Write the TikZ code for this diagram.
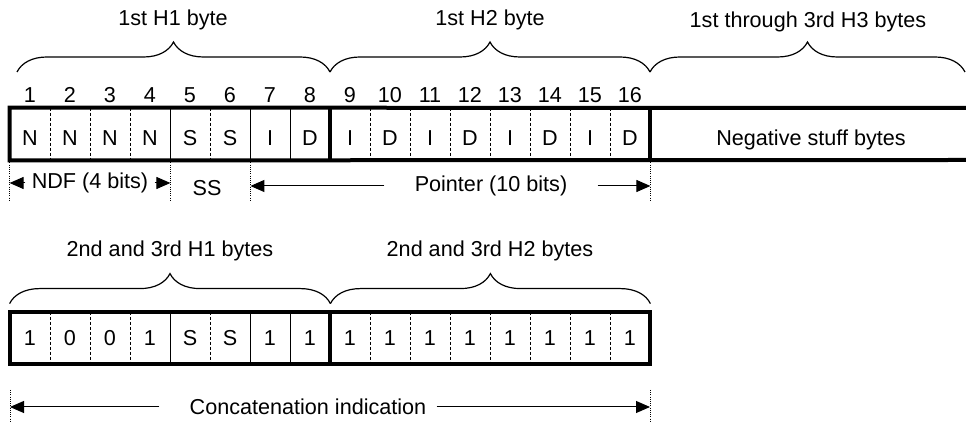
\documentclass[tikz,border=0pt]{standalone}
\usepackage{fontspec}
\setmainfont{Liberation Sans}
\usetikzlibrary{arrows.meta,decorations.pathreplacing}
\begin{document}
\begin{tikzpicture}[
    x=0.5pt, y=-0.5pt,
    >={Triangle[length=7pt,width=6pt]},
    every node/.style={font=\fontsize{10.8}{12}\selectfont},
    cell/.style={rectangle, minimum width=20pt, minimum height=26pt, inner sep=0pt},
    lowtext/.style={text height=12pt, text depth=0pt},
    frame/.style={line width=2pt},
    sep/.style={line width=0.5pt},
    dsep/.style={line width=0.5pt, dash pattern=on 1.5pt off 1pt},
    guide/.style={line width=0.5pt, dash pattern=on 0.5pt off 0.6pt},
    dim/.style={->, line width=0.5pt},
    brc/.style={decorate, decoration={brace, amplitude=15pt}, line width=0.6pt},
]
  \useasboundingbox (0,0) rectangle (966,426);

  % Upper row: bit cells
  \foreach \i/\t in {1/N,2/N,3/N,4/N,5/S,6/S,7/I,8/D,9/I,10/D,11/I,12/D,13/I,14/D,15/I,16/D} {
    \node[cell, lowtext] (c\i) at ({40*\i-10},134) {\t};
    \node (n\i) at ({40*\i-10},95) {\i};
  }
  \node[cell, lowtext, minimum width=158pt] (neg) at (811,134) {Negative stuff bytes};

  % Upper row: separators and frame
  \foreach \i in {1,2,3,5,9,10,...,15} {
    \draw[dsep] (c\i.north east) -- (c\i.south east);
  }
  \foreach \i in {4,6,7} {
    \draw[sep] (c\i.north east) -- (c\i.south east);
  }
  \draw[frame] (966,108) -- (c1.north west) -- (c1.south west) -- (966,160);
  \draw[frame] (c8.north east) -- (c8.south east);
  \draw[frame] (c16.north east) -- (c16.south east);

  % Upper braces
  \coordinate (t0) at (17,72);
  \coordinate (t1) at (330,72);
  \coordinate (t2) at (650,72);
  \coordinate (t3) at (965,72);
  \draw[brc] (t0) -- (t1);
  \draw[brc] (t1) -- (t2);
  \draw[brc] (t2) -- (t3);
  \node (h1) at (173,20) {1st H1 byte};
  \node (h2) at (490,20) {1st H2 byte};
  \node (h3) at (808,22) {1st through 3rd H3 bytes};

  % Upper dimension lines
  \foreach \i in {1,4,6,16} {
    \coordinate (g\i) at ([yshift=-1pt]c\i.south east);
  }
  \coordinate (g0) at ([yshift=-1pt]c1.south west);
  \foreach \i in {0,4,6,16} {
    \draw[guide] (g\i) -- ++(0,38);
  }
  \node[inner xsep=3pt] (ndf) at (90,183) {NDF (4 bits)};
  \node (ss) at (207,188) {SS};
  \node[inner xsep=15pt] (ptr) at (491,186) {Pointer (10 bits)};
  \draw[dim] (ndf.west) -- (ndf.west -| g0);
  \draw[dim] (ndf.east) -- (ndf.east -| g4);
  \draw[dim] (ptr.west) -- (ptr.west -| g6);
  \draw[dim] (ptr.east) -- (ptr.east -| g16);

  % Lower row: bit cells
  \foreach \i/\t in {1/1,2/0,3/0,4/1,5/S,6/S,7/1,8/1,9/1,10/1,11/1,12/1,13/1,14/1,15/1,16/1} {
    \node[cell] (b\i) at ({40*\i-10},338) {\t};
  }

  % Lower row: separators and frame
  \foreach \i in {1,2,3,5,9,10,...,15} {
    \draw[dsep] (b\i.north east) -- (b\i.south east);
  }
  \foreach \i in {4,6,7} {
    \draw[sep] (b\i.north east) -- (b\i.south east);
  }
  \draw[frame] (b1.north west) rectangle (b16.south east);
  \draw[frame] (b8.north east) -- (b8.south east);

  % Lower braces
  \draw[brc] ([yshift=4pt]b1.north west) -- ([yshift=4pt]b8.north east);
  \draw[brc] ([yshift=4pt]b8.north east) -- ([yshift=4pt]b16.north east);
  \node (k1) at (170,251) {2nd and 3rd H1 bytes};
  \node (k2) at (490,251) {2nd and 3rd H2 bytes};

  % Lower dimension line
  \coordinate (e0) at (10,390);
  \coordinate (e1) at (650,390);
  \draw[guide] (e0) -- ++(0,32);
  \draw[guide] (e1) -- ++(0,32);
  \node[inner xsep=0pt] (cat) at (308,407) {Concatenation indication};
  \draw[dim, shorten <=15pt] (cat.west) -- (cat.west -| e0);
  \draw[dim, shorten <=5pt] (cat.east) -- (cat.east -| e1);

\end{tikzpicture}
\end{document}
